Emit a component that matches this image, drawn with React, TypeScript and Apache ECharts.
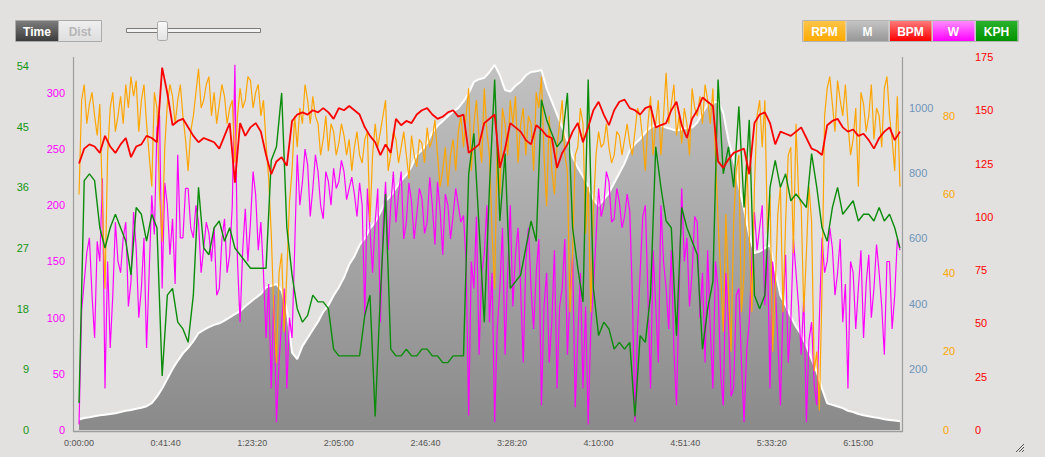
import React, { useEffect, useRef } from 'react';
import * as echarts from 'echarts';

// sample times in seconds
const times = [
  0,150,300,450,600,750,900,1050,1200,1350,1500,1650,1800,1950,2100,2250,2400,2550,2700,2850,
  3000,3150,3300,3450,3600,3750,3900,4050,4200,4350,4500,4650,4800,4950,5100,5250,5400,5550,5700,5850,
  6000,6150,6300,6450,6600,6750,6900,7050,7200,7350,7500,7650,7800,7950,8100,8250,8400,8550,8700,8850,
  9000,9150,9300,9450,9600,9750,9900,10050,10200,10350,10500,10650,10800,10950,11100,11250,11400,11550,11700,11850,
  12000,12150,12300,12450,12600,12750,12900,13050,13200,13350,13500,13650,13800,13950,14100,14250,14400,14550,14700,14850,
  15000,15150,15300,15450,15600,15750,15900,16050,16200,16350,16500,16650,16800,16950,17100,17250,17400,17550,17700,17850,
  18000,18150,18300,18450,18600,18750,18900,19050,19200,19350,19500,19650,19800,19950,20100,20250,20400,20550,20700,20850,
  21000,21150,21300,21450,21600,21750,21900,22050,22200,22350,22500,22650,22800,22950,23100,23250,23400,23550,23700,
];
// the dense series (RPM, W) also have a reading half-way between two sample times
const HALF_STEP = 75;

const rpm = [
  60,88,83,80,83,36,82,76,85,88,
  90,89,84,78,62,82,48,83,85,84,
  80,66,80,92,84,90,86,83,85,82,
  68,87,84,89,86,80,73,50,17,45,
  40,66,72,78,84,85,78,74,71,76,
  73,75,74,72,70,74,53,78,76,84,
  70,74,72,70,75,67,73,77,74,70,
  66,62,74,76,72,87,78,74,87,70,
  36,60,78,84,85,78,70,78,86,90,
  57,66,72,84,66,45,72,78,62,56,
  76,73,72,70,75,74,73,76,80,66,
  85,78,70,91,83,75,73,78,87,80,
  78,84,87,53,25,36,53,70,40,50,
  62,84,84,60,36,62,53,72,78,57,
  45,53,20,36,87,83,89,80,78,74,
  62,83,80,74,80,87,80,66,62,
];
const rpmMid = [
  84,78,86,75,58,70,86,80,78,82,
  85,76,88,70,86,60,72,88,78,88,
  74,76,86,82,88,80,78,88,78,84,
  80,82,90,82,88,84,64,30,40,25,
  58,80,82,88,78,80,70,80,78,70,
  78,70,66,76,68,76,70,72,80,66,
  76,68,76,64,70,74,68,72,79,62,
  72,70,66,80,80,66,84,68,76,50,
  74,82,70,78,68,82,80,66,82,70,
  80,60,78,70,30,70,82,50,30,70,
  72,78,68,76,70,78,70,82,74,78,
  70,84,80,78,88,80,82,70,82,85,
  88,78,70,40,55,20,66,30,70,30,
  80,72,50,20,55,30,70,45,60,30,
  62,15,5,80,90,76,84,88,70,82,
  86,76,88,82,72,90,74,85,
];

const elevation = [
  45,50,52,55,58,60,62,64,68,72,
  74,78,81,86,95,115,140,170,200,225,
  248,265,285,310,320,328,335,340,348,358,
  368,377,392,405,418,430,450,455,460,440,
  380,250,230,270,295,320,345,375,395,425,
  450,480,520,545,580,600,630,650,680,715,
  730,755,777,795,820,856,870,893,925,945,
  960,975,988,1000,1020,1045,1080,1088,1092,1110,
  1132,1100,1055,1050,1068,1080,1100,1110,1112,1116,
  1060,1020,980,940,900,850,817,790,760,720,
  700,720,740,770,800,830,870,890,905,925,
  940,948,945,940,935,930,935,938,940,955,
  985,1010,1015,1020,985,900,840,760,690,610,
  555,560,570,580,500,425,395,360,330,305,
  270,230,190,140,95,90,85,80,72,68,
  62,58,55,52,50,46,44,42,40,
];

const bpm = [
  125,132,134,133,130,138,133,130,134,137,
  128,133,134,138,137,135,170,158,143,145,
  146,142,138,135,137,136,135,132,138,144,
  116,144,138,142,144,140,129,120,126,128,
  124,145,148,149,148,150,149,151,149,146,
  151,150,152,150,148,142,138,135,129,134,
  130,146,143,145,144,148,150,151,148,146,
  147,149,150,147,148,130,132,134,144,146,
  148,123,132,144,142,140,136,134,143,141,
  138,137,123,130,134,140,144,135,142,150,
  154,148,143,150,154,155,151,150,148,151,
  152,142,143,144,150,154,143,137,146,150,
  156,154,152,126,123,127,130,131,132,120,
  144,148,149,144,134,140,139,138,140,142,
  137,132,131,129,143,145,146,142,140,141,
  138,139,136,132,137,140,142,136,140,
];

const watts = [
  5,132,171,82,150,37,73,185,140,185,
  132,162,126,73,209,269,126,200,188,245,
  171,215,171,185,162,175,180,126,188,156,
  325,96,197,185,209,185,82,37,7,96,
  37,82,245,221,236,215,230,188,221,233,
  221,230,215,210,220,102,178,185,96,221,
  200,185,230,185,203,191,206,185,200,221,
  156,200,191,200,191,13,126,67,156,96,
  7,126,67,200,156,126,150,126,140,22,
  140,96,37,126,67,156,82,37,5,126,
  215,200,221,188,203,190,195,7,140,200,
  37,111,200,126,160,22,215,171,140,185,
  140,160,37,126,22,96,37,126,7,96,
  194,180,111,37,126,22,156,96,140,67,
  7,96,22,171,150,162,140,96,37,140,
  126,82,156,126,140,67,150,120,160,
];
const wattsMid = [
  106,158,120,168,224,150,120,150,171,110,
  194,100,171,140,174,280,220,156,130,171,
  215,180,200,140,185,150,120,170,140,200,
  150,160,150,230,160,140,130,120,60,126,
  100,160,200,250,190,245,200,230,200,215,
  240,205,225,190,200,215,140,215,180,160,
  230,210,170,220,170,215,175,225,165,195,
  210,170,215,185,150,150,190,140,200,140,
  90,180,140,110,180,60,180,90,170,110,
  60,160,110,170,120,20,140,110,90,170,
  190,230,185,215,180,210,120,90,190,120,
  160,60,150,90,70,120,150,110,190,100,
  60,90,150,50,140,30,120,60,70,150,
  160,200,160,150,80,110,60,170,110,120,
  80,40,100,140,180,120,170,130,150,90,
  160,130,100,165,110,150,90,170,
];

const kph = [
  4,37,38,37,30,27,30,32,30,28,
  23,33,32,28,32,30,8,20,21,16,
  15,13,20,36,27,26,30,31,28,30,
  27,26,25,24,24,24,24,40,42,50,
  30,23,18,16,17,20,19,19,18,12,
  11,11,11,11,11,17,20,2,20,35,
  12,11,11,12,11,11,12,12,11,11,
  10,10,11,11,11,38,44,30,16,36,
  52,31,41,21,22,23,27,31,28,49,
  46,44,42,43,50,30,24,19,52,21,
  14,16,15,12,13,12,13,2,14,13,
  20,42,36,31,30,14,33,30,28,26,
  12,18,22,52,38,42,36,48,33,46,
  20,18,20,36,40,36,38,34,35,34,
  33,41,36,30,28,33,36,32,33,34,
  31,32,32,31,33,31,32,30,27,
];

const xTicks = [0, 2500, 5000, 7500, 10000, 12500, 15000, 17500, 20000, 22500];
const kphTicks = [0, 9, 18, 27, 36, 45, 54];
const wTicks = [0, 50, 100, 150, 200, 250, 300];
const mTicks = [200, 400, 600, 800, 1000];
const rpmTicks = [0, 20, 40, 60, 80];
const bpmTicks = [0, 25, 50, 75, 100, 125, 150, 175];

const legendLabels = ['RPM', 'M', 'BPM', 'W', 'KPH'];
const modeLabels = ['Time', 'Dist'];

const FONT = '"Liberation Sans", Arial, Helvetica, sans-serif';
const BG = '#e2e1df';

function fmtTime(v: number): string {
  const h = Math.floor(v / 3600);
  const m = Math.floor((v % 3600) / 60);
  const s = Math.round(v % 60);
  return `${h}:${String(m).padStart(2, '0')}:${String(s).padStart(2, '0')}`;
}

function pair(values: number[]) {
  return times.map((t, i) => [t, values[i]]);
}

function pairDense(values: number[], mids: number[]) {
  const out: number[][] = [];
  times.forEach((t, i) => {
    out.push([t, values[i]]);
    if (i < mids.length) out.push([t + HALF_STEP, mids[i]]);
  });
  return out;
}

function grad(top: string, bottom: string) {
  return {
    type: 'linear', x: 0, y: 0, x2: 0, y2: 1,
    colorStops: [{ offset: 0, color: top }, { offset: 1, color: bottom }],
  };
}

function yAxis(
  min: number, max: number, ticks: number[], color: string,
  position: 'left' | 'right', margin: number,
) {
  return {
    type: 'value', position, min, max,
    axisLine: { show: false },
    axisTick: { show: false },
    splitLine: { show: false },
    axisLabel: {
      customValues: ticks,
      formatter: (v: number) => (ticks.indexOf(v) >= 0 ? String(v) : ''),
      color, fontSize: 11, fontFamily: FONT, margin,
    },
  };
}

const legendTop = ['#ffc448', '#c4c4c4', '#ff7a7a', '#ff8cff', '#2cb02c'];
const legendBottom = ['#ffaa00', '#979797', '#ff0000', '#ff00ff', '#009400'];

function buildGraphic() {
  const els: any[] = [];
  // plot border
  const bc = '#9c9c9c';
  els.push({ type: 'line', z: 100, shape: { x1: 73.5, y1: 57, x2: 73.5, y2: 432 }, style: { stroke: bc, lineWidth: 1.2 } });
  els.push({ type: 'line', z: 100, shape: { x1: 902.5, y1: 57, x2: 902.5, y2: 432 }, style: { stroke: bc, lineWidth: 1.2 } });
  els.push({ type: 'line', z: 100, shape: { x1: 73, y1: 431.5, x2: 903, y2: 431.5 }, style: { stroke: bc, lineWidth: 1.5 } });

  // Time / Dist toggle
  els.push({ type: 'rect', z: 100, shape: { x: 15.5, y: 20.5, width: 86, height: 21 }, style: { fill: grad('#efefef', '#dedede'), stroke: '#aaaaaa', lineWidth: 1 } });
  els.push({ type: 'rect', z: 101, shape: { x: 16, y: 21, width: 42, height: 20 }, style: { fill: grad('#7c7c7c', '#3c3c3c') } });
  els.push({ type: 'line', z: 101, shape: { x1: 58.5, y1: 21, x2: 58.5, y2: 41 }, style: { stroke: '#b0b0b0', lineWidth: 1 } });
  const modeX = [37, 80];
  const modeColor = ['#ffffff', '#b7b7b7'];
  modeLabels.forEach((lab, i) => {
    els.push({
      type: 'text', z: 102, x: modeX[i], y: 31.5,
      style: { text: lab, fill: modeColor[i], font: `bold 12px ${FONT}`, align: 'center', verticalAlign: 'middle', textAlign: 'center', textVerticalAlign: 'middle' },
    });
  });

  // slider
  els.push({ type: 'rect', z: 100, shape: { x: 126.5, y: 28.5, width: 134, height: 4 }, style: { fill: '#f3f3f3', stroke: '#7a7a7a', lineWidth: 1 } });
  els.push({ type: 'rect', z: 101, shape: { x: 157.5, y: 21.5, width: 10, height: 19, r: 2 }, style: { fill: grad('#fafafa', '#e2e2e2'), stroke: '#a8a8a8', lineWidth: 1 } });

  // legend buttons
  const bx0 = 803;
  const bw = 43;
  els.push({ type: 'rect', z: 100, shape: { x: bx0 - 0.5, y: 20.5, width: bw * 5 + 1, height: 21 }, style: { fill: 'none', stroke: '#b4b4b4', lineWidth: 1 } });
  legendLabels.forEach((lab, i) => {
    const x = bx0 + i * bw;
    els.push({ type: 'rect', z: 101, shape: { x: x + 0.5, y: 21, width: bw - 1, height: 20 }, style: { fill: grad(legendTop[i], legendBottom[i]) } });
    if (i > 0) {
      els.push({ type: 'line', z: 102, shape: { x1: x + 0.5, y1: 21, x2: x + 0.5, y2: 41 }, style: { stroke: '#c8c8c8', lineWidth: 1 } });
    }
    els.push({
      type: 'text', z: 103, x: x + bw / 2, y: 31.5,
      style: { text: lab, fill: '#ffffff', font: `bold 12px ${FONT}`, align: 'center', verticalAlign: 'middle', textAlign: 'center', textVerticalAlign: 'middle' },
    });
  });

  // resize grip
  [[1016, 452, 1024, 444], [1019, 452, 1024, 447], [1022, 452, 1024, 450]].forEach((l) => {
    els.push({ type: 'line', z: 100, shape: { x1: l[0], y1: l[1], x2: l[2], y2: l[3] }, style: { stroke: '#555555', lineWidth: 1 } });
  });
  return els;
}

function buildOption() {
  return {
    animation: false,
    backgroundColor: BG,
    textStyle: { fontFamily: FONT },
    grid: { left: 73, top: 57, width: 829, height: 373, containLabel: false },
    xAxis: {
      type: 'value', min: -174, max: 23760,
      axisLine: { show: false },
      axisTick: { show: false },
      splitLine: { show: false },
      axisLabel: {
        customValues: xTicks,
        formatter: (v: number) => (xTicks.indexOf(v) >= 0 ? fmtTime(v) : ''),
        color: '#555555', fontSize: 9, fontFamily: FONT, margin: 8,
      },
    },
    yAxis: [
      yAxis(0, 55.33, kphTicks, '#129612', 'left', 44),
      yAxis(0, 332, wTicks, '#ff00ff', 'left', 8),
      yAxis(13, 1156, mTicks, '#6e94ba', 'right', 7),
      yAxis(0, 95, rpmTicks, '#ffa500', 'right', 41),
      yAxis(0, 175, bpmTicks, '#ff0000', 'right', 73),
    ],
    series: [
      {
        name: 'M', type: 'line', yAxisIndex: 2, data: pair(elevation), showSymbol: false, symbol: 'none', z: 1,
        lineStyle: { color: '#ffffff', width: 2 },
        areaStyle: { color: grad('#c2c2c2', '#8a8a8a'), opacity: 1 },
      },
      {
        name: 'W', type: 'line', yAxisIndex: 1, data: pairDense(watts, wattsMid), showSymbol: false, symbol: 'none', z: 2,
        lineStyle: { color: '#ff00ff', width: 1.2 },
      },
      {
        name: 'RPM', type: 'line', yAxisIndex: 3, data: pairDense(rpm, rpmMid), showSymbol: false, symbol: 'none', z: 3,
        lineStyle: { color: '#ffa500', width: 1.2 },
      },
      {
        name: 'KPH', type: 'line', yAxisIndex: 0, data: pair(kph), showSymbol: false, symbol: 'none', z: 4,
        lineStyle: { color: '#0b8c0b', width: 1.4 },
      },
      {
        name: 'BPM', type: 'line', yAxisIndex: 4, data: pair(bpm), showSymbol: false, symbol: 'none', z: 5,
        lineStyle: { color: '#ff0000', width: 1.8 },
      },
    ],
    graphic: buildGraphic(),
  };
}

export default function App() {
  const ref = useRef<HTMLDivElement>(null);
  useEffect(() => {
    if (!ref.current) return;
    const chart = echarts.init(ref.current, null, { renderer: 'svg' });
    chart.setOption(buildOption() as any);
    return () => chart.dispose();
  }, []);
  return (
    <div
      ref={ref}
      style={{ position: 'fixed', left: 0, top: 0, width: 1045, height: 457, background: BG }}
    />
  );
}
